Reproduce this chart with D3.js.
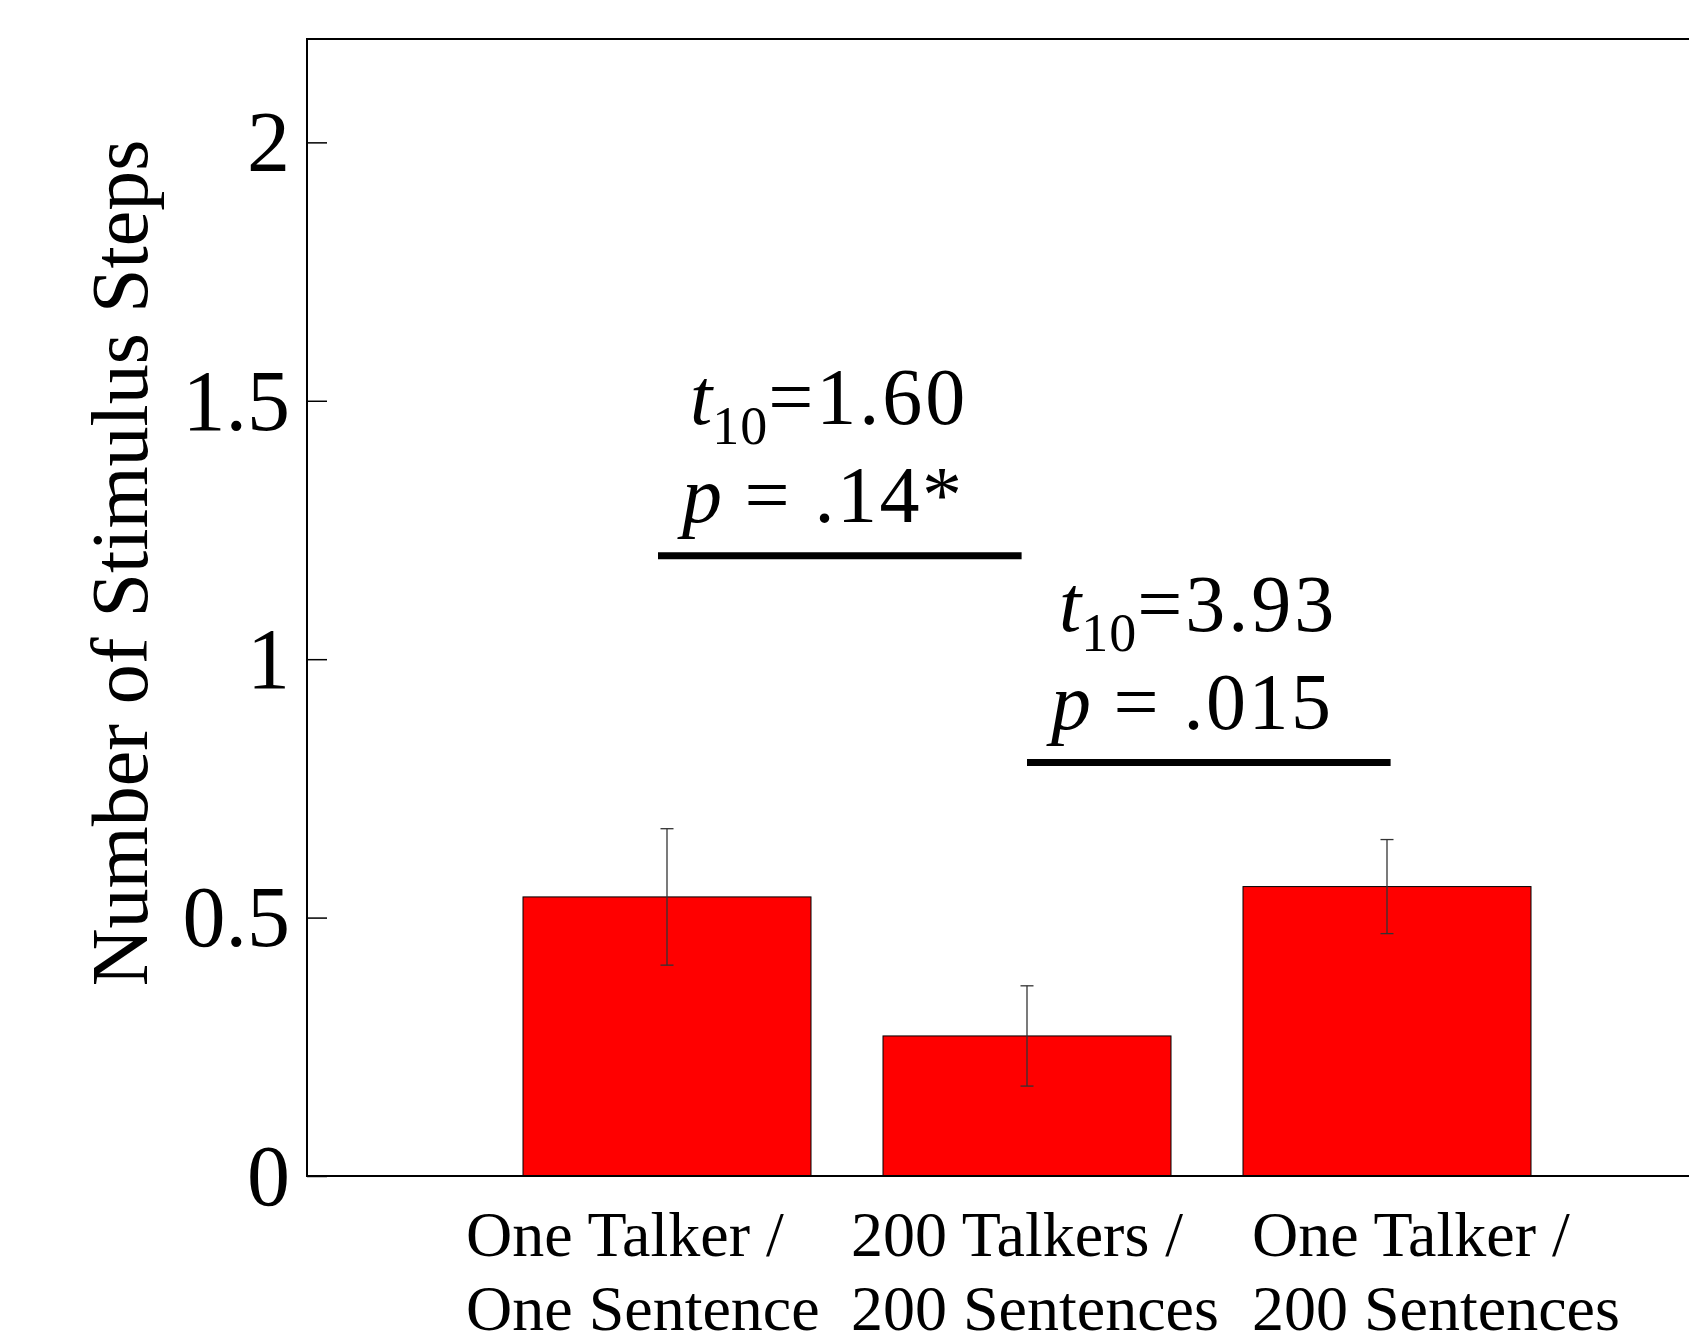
<!DOCTYPE html>
<html>
<head>
<meta charset="utf-8">
<script src="https://cdn.jsdelivr.net/npm/d3@7"></script>
<style>
  body { margin: 0; background: #fff; }
  svg { display: block; font-family: 'Liberation Serif', 'Times New Roman', serif; }
</style>
</head>
<body>
<div id="chart"></div>
<script>
// bar values
const conditions = [
	['One Talker /', 'One Sentence'],
	['200 Talkers /', '200 Sentences'],
	['One Talker /', '200 Sentences'],
];
const means = [0.54, 0.271, 0.56];
const errors = [0.132, 0.097, 0.091];
const yTicks = [0, 0.5, 1, 1.5, 2];

// comparison brackets: [x0, x1, y], and their labels
const brackets = [[0.975, 1.985, 1.2], [2.0, 3.01, 0.8]];
const tStats = ['1.60', '3.93'];
const pStats = ['.14*', '.015'];

const width = 1689;
const height = 1342;
const plotLeft = 307;
const plotTop = 39;
const plotBottom = 1176;
const step = 360;

const svg = d3.select('#chart').append('svg')
	.attr('width', width)
	.attr('height', height);

const x = d3.scaleLinear()
	.domain([0, 4])
	.range([plotLeft, plotLeft + 4 * step]);

const y = d3.scaleLinear()
	.domain([0, 2.2])
	.range([plotBottom, plotTop]);

const barW = 0.8 * step;

// bars
svg.selectAll('.bar')
		.data(means)
	.enter().append('rect')
		.attr('class', 'bar')
		.attr('x', (d, i) => x(i + 1) - barW / 2)
		.attr('y', (d) => y(d))
		.attr('width', barW)
		.attr('height', (d) => y(0) - y(d))
		.attr('fill', '#ff0000')
		.attr('stroke', '#000')
		.attr('stroke-width', 1);

// error bars
const eb = svg.selectAll('.err')
		.data(means)
	.enter().append('g')
		.attr('class', 'err')
		.attr('stroke', '#333')
		.attr('stroke-width', 1.3);

eb.append('line')
	.attr('x1', (d, i) => x(i + 1))
	.attr('x2', (d, i) => x(i + 1))
	.attr('y1', (d, i) => y(d - errors[i]))
	.attr('y2', (d, i) => y(d + errors[i]));

eb.append('line')
	.attr('x1', (d, i) => x(i + 1) - 6.5)
	.attr('x2', (d, i) => x(i + 1) + 6.5)
	.attr('y1', (d, i) => y(d + errors[i]))
	.attr('y2', (d, i) => y(d + errors[i]));

eb.append('line')
	.attr('x1', (d, i) => x(i + 1) - 6.5)
	.attr('x2', (d, i) => x(i + 1) + 6.5)
	.attr('y1', (d, i) => y(d - errors[i]))
	.attr('y2', (d, i) => y(d - errors[i]));

// axis box (right side runs off the page)
svg.append('path')
	.attr('d', `M${x(4)},${y(2.2)}H${x(0)}V${y(0)}H${x(4)}`)
	.attr('fill', 'none')
	.attr('stroke', '#000')
	.attr('stroke-width', 2);

// y axis ticks and labels
const yAxis = svg.append('g')
	.attr('transform', `translate(${plotLeft},0)`)
	.call(d3.axisRight(y)
		.tickValues(yTicks)
		.tickSize(20)
		.tickFormat(d3.format('')));
yAxis.select('.domain').remove();
yAxis.selectAll('.tick line').attr('stroke', '#000').attr('stroke-width', 1.5);
yAxis.selectAll('.tick text')
	.attr('x', -17)
	.attr('dy', '0.33em')
	.attr('text-anchor', 'end')
	.attr('font-family', 'Liberation Serif')
	.attr('font-size', 86)
	.attr('fill', '#000');

svg.append('text')
	.attr('transform', `translate(147,563) rotate(-90)`)
	.attr('text-anchor', 'middle')
	.attr('font-size', 80)
	.text('Number of Stimulus Steps');

// category labels, left aligned
const labelLeft = [466, 851, 1252];
const lab = svg.selectAll('.cat')
		.data(conditions)
	.enter().append('text')
		.attr('class', 'cat')
		.attr('font-size', 64);
lab.append('tspan')
	.attr('x', (d, i) => labelLeft[i])
	.attr('y', 1256)
	.text((d) => d[0]);
lab.append('tspan')
	.attr('x', (d, i) => labelLeft[i])
	.attr('y', 1330)
	.text((d) => d[1]);

// significance brackets
svg.selectAll('.bracket')
		.data(brackets)
	.enter().append('line')
		.attr('class', 'bracket')
		.attr('x1', (d) => x(d[0]))
		.attr('x2', (d) => x(d[1]))
		.attr('y1', (d) => y(d[2]))
		.attr('y2', (d) => y(d[2]))
		.attr('stroke', '#000')
		.attr('stroke-width', 7);

const tText = svg.selectAll('.tstat')
		.data(brackets)
	.enter().append('text')
		.attr('class', 'tstat')
		.attr('x', (d) => x(d[0]) + 32)
		.attr('y', (d) => y(d[2]) - 132)
		.attr('font-size', 80);
tText.append('tspan').attr('font-style', 'italic').text('t');
tText.append('tspan').attr('font-size', 54).attr('dy', 20).attr('letter-spacing', 1).text('10');
tText.append('tspan').attr('dy', -20).attr('letter-spacing', 3)
	.text((d, i) => '=' + tStats[i]);

const pText = svg.selectAll('.pstat')
		.data(brackets)
	.enter().append('text')
		.attr('class', 'pstat')
		.attr('x', (d) => x(d[0]) + 24)
		.attr('y', (d) => y(d[2]) - 34)
		.attr('font-size', 80);
pText.append('tspan').attr('font-style', 'italic').text('p');
pText.append('tspan').attr('letter-spacing', 2.5)
	.text((d, i) => ' = ' + pStats[i]);
</script>
</body>
</html>
